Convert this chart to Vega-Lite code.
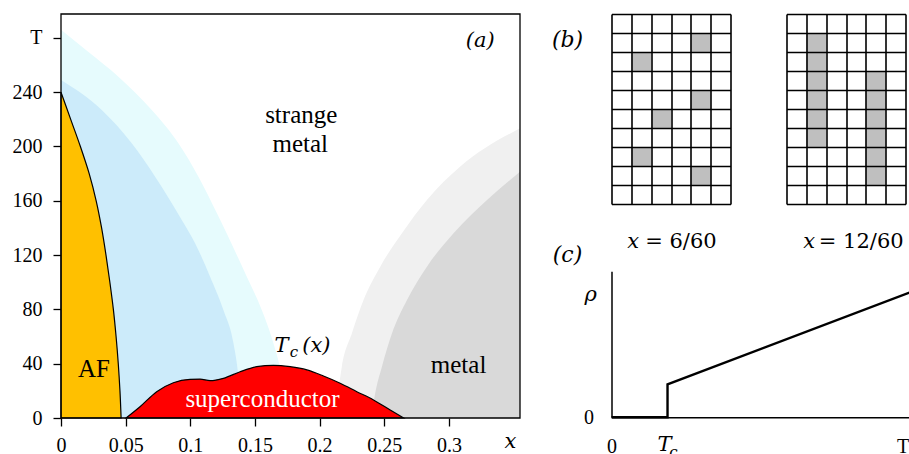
{
  "$schema": "https://vega.github.io/schema/vega-lite/v6.json",
  "padding": {"left": 12, "top": 13, "right": 0, "bottom": 0},
  "background": "white",
  "config": {"view": {"stroke": null}},
  "bounds": "flush",
  "spacing": 91.5,
  "datasets": {
    "outer": [{"x":0,"T":286},{"x":0.021,"T":269.8},{"x":0.0444,"T":251.4},{"x":0.0702,"T":226.9},{"x":0.0908,"T":202.4},{"x":0.1063,"T":177.8},{"x":0.121,"T":150},{"x":0.1437,"T":104.1},{"x":0.1553,"T":79.6},{"x":0.1643,"T":55},{"x":0.171,"T":30},{"x":0.176,"T":0}],
    "inner": [{"x":0,"T":249},{"x":0.0315,"T":226.9},{"x":0.0547,"T":202.4},{"x":0.0728,"T":177.8},{"x":0.0934,"T":145.9},{"x":0.1037,"T":128.7},{"x":0.1153,"T":104.1},{"x":0.1256,"T":79.6},{"x":0.1334,"T":55},{"x":0.1372,"T":30.4},{"x":0.1398,"T":0}],
    "lgray": [{"x":0.212,"T":0},{"x":0.2172,"T":37.8},{"x":0.225,"T":62.4},{"x":0.234,"T":86.9},{"x":0.2469,"T":111.5},{"x":0.2637,"T":136.1},{"x":0.283,"T":160.6},{"x":0.3088,"T":185.2},{"x":0.355,"T":213.4}],
    "dgray": [{"x":0.24,"T":0},{"x":0.243,"T":18.2},{"x":0.2482,"T":37.8},{"x":0.256,"T":62.4},{"x":0.2676,"T":86.9},{"x":0.283,"T":111.5},{"x":0.3036,"T":136.1},{"x":0.3295,"T":160.6},{"x":0.355,"T":181.4}],
    "af": [{"x":0,"T":240},{"x":0.0075,"T":220},{"x":0.015,"T":200},{"x":0.0218,"T":180},{"x":0.0272,"T":160},{"x":0.0314,"T":140},{"x":0.0348,"T":120},{"x":0.0378,"T":100},{"x":0.0405,"T":80},{"x":0.0426,"T":60},{"x":0.0443,"T":40},{"x":0.0456,"T":20},{"x":0.0465,"T":0}],
    "sc": [{"x":0.0503,"T":0},{"x":0.0611,"T":8.3},{"x":0.074,"T":19.4},{"x":0.0869,"T":26},{"x":0.0998,"T":28.5},{"x":0.1076,"T":28.7},{"x":0.1153,"T":27.5},{"x":0.1256,"T":29.2},{"x":0.1385,"T":34.1},{"x":0.1514,"T":37.8},{"x":0.1643,"T":38.8},{"x":0.1772,"T":37.8},{"x":0.1902,"T":35.4},{"x":0.203,"T":30.9},{"x":0.2159,"T":25.6},{"x":0.2288,"T":19.4},{"x":0.2417,"T":13.3},{"x":0.2546,"T":5.9},{"x":0.2649,"T":0}],
    "labBlack": [{"x":0.1858,"T":217.1,"s":"strange"},{"x":0.185,"T":196.2,"s":"metal"},{"x":0.0255,"T":30.4,"s":"AF"},{"x":0.3075,"T":32.9,"s":"metal"}],
    "labWhite": [{"x":0.1558,"T":8.3,"s":"superconductor"}],
    "labItal": [{"x":0.3243,"T":273.5,"s":"(a)"},{"x":0.1705,"T":48.6,"s":"T"},{"x":0.1975,"T":48.6,"s":"(x)"},{"x":0.3475,"T":-22.1,"s":"x"}],
    "labSub": [{"x":0.1802,"T":44.9,"s":"c"}],
    "g1": [{"c":4,"r":1},{"c":1,"r":2},{"c":4,"r":4},{"c":2,"r":5},{"c":1,"r":7},{"c":4,"r":8}],
    "g2": [{"c":1,"r":1},{"c":1,"r":2},{"c":1,"r":3},{"c":1,"r":4},{"c":1,"r":5},{"c":1,"r":6},{"c":4,"r":3},{"c":4,"r":4},{"c":4,"r":5},{"c":4,"r":6},{"c":4,"r":7},{"c":4,"r":8}],
    "rho": [{"t":0,"r":0},{"t":1.88,"r":0},{"t":1.88,"r":2.26},{"t":10,"r":8.54}],
    "labC": [{"t":-0.7,"r":7.97,"s":"ρ"},{"t":1.78,"r":-2.33,"s":"T"}],
    "labCsub": [{"t":2.08,"r":-2.74,"s":"c"}]
  },
  "hconcat": [
    {
      "width": 459,
      "height": 404,
      "layer": [
        {
          "data": {"name": "outer"},
          "mark": {"type": "area", "interpolate": "monotone", "color": "#E6FBFD"},
          "encoding": {
            "x": {"field": "x", "type": "quantitative", "scale": {"domain": [0, 0.355], "nice": false, "zero": false},
              "axis": {"values": [0, 0.05, 0.1, 0.15, 0.2, 0.25, 0.3], "labelExpr": "'' + datum.value", "title": null, "domain": false, "grid": false, "ticks": true, "tickSize": 8, "tickColor": "black", "tickWidth": 1.3, "labelPadding": 9, "labelFont": "Liberation Serif", "labelFontSize": 20, "labelColor": "black", "labelFlush": false, "labelOverlap": false}},
            "y": {"field": "T", "type": "quantitative", "scale": {"domain": [0, 297.6], "nice": false},
              "axis": {"values": [0, 40, 80, 120, 160, 200, 240, 280], "labelExpr": "datum.value == 280 ? 'T' : '' + datum.value", "title": null, "domain": false, "grid": false, "ticks": true, "tickSize": 8, "tickColor": "black", "tickWidth": 1.3, "labelPadding": 11, "labelFont": "Liberation Serif", "labelFontSize": 20, "labelColor": "black", "labelFlush": false, "labelOverlap": false}}
          }
        },
        {
          "data": {"name": "inner"},
          "mark": {"type": "area", "interpolate": "monotone", "color": "#CCEBFA"},
          "encoding": {"x": {"field": "x", "type": "quantitative"}, "y": {"field": "T", "type": "quantitative"}}
        },
        {
          "data": {"name": "lgray"},
          "mark": {"type": "area", "interpolate": "monotone", "color": "#F0F0F0"},
          "encoding": {"x": {"field": "x", "type": "quantitative"}, "y": {"field": "T", "type": "quantitative"}}
        },
        {
          "data": {"name": "dgray"},
          "mark": {"type": "area", "interpolate": "monotone", "color": "#D9D9D9"},
          "encoding": {"x": {"field": "x", "type": "quantitative"}, "y": {"field": "T", "type": "quantitative"}}
        },
        {
          "data": {"name": "af"},
          "mark": {"type": "area", "orient": "horizontal", "interpolate": "monotone", "fill": "#FFC000", "stroke": "black", "strokeWidth": 1.2},
          "encoding": {"x": {"field": "x", "type": "quantitative"}, "y": {"field": "T", "type": "quantitative"}}
        },
        {
          "data": {"name": "sc"},
          "mark": {"type": "area", "interpolate": "monotone", "fill": "#FF0000", "stroke": "black", "strokeWidth": 1.2},
          "encoding": {"x": {"field": "x", "type": "quantitative"}, "y": {"field": "T", "type": "quantitative"}}
        },
        {
          "data": {"name": "labBlack"},
          "mark": {"type": "text", "font": "Liberation Serif", "fontSize": 25, "color": "black", "align": "center", "baseline": "alphabetic"},
          "encoding": {"x": {"field": "x", "type": "quantitative"}, "y": {"field": "T", "type": "quantitative"}, "text": {"field": "s"}}
        },
        {
          "data": {"name": "labWhite"},
          "mark": {"type": "text", "font": "Liberation Serif", "fontSize": 25, "color": "white", "align": "center", "baseline": "alphabetic"},
          "encoding": {"x": {"field": "x", "type": "quantitative"}, "y": {"field": "T", "type": "quantitative"}, "text": {"field": "s"}}
        },
        {
          "data": {"name": "labItal"},
          "mark": {"type": "text", "font": "DejaVu Serif", "fontStyle": "italic", "fontSize": 21, "color": "black", "align": "center", "baseline": "alphabetic"},
          "encoding": {"x": {"field": "x", "type": "quantitative"}, "y": {"field": "T", "type": "quantitative"}, "text": {"field": "s"}}
        },
        {
          "data": {"name": "labSub"},
          "mark": {"type": "text", "font": "DejaVu Serif", "fontStyle": "italic", "fontSize": 15, "color": "black", "align": "center", "baseline": "alphabetic"},
          "encoding": {"x": {"field": "x", "type": "quantitative"}, "y": {"field": "T", "type": "quantitative"}, "text": {"field": "s"}}
        },
        {
          "data": {"values": [{}]},
          "mark": {"type": "rect", "filled": false, "color": "black", "strokeWidth": 1.3},
          "encoding": {"x": {"datum": 0, "type": "quantitative"}, "x2": {"datum": 0.355}, "y": {"datum": 0, "type": "quantitative"}, "y2": {"datum": 297.6}}
        }
      ]
    },
    {
      "spacing": 5.3,
      "vconcat": [
        {
          "bounds": "flush",
          "spacing": 56,
          "hconcat": [
            {
              "width": 119,
              "height": 190,
              "layer": [
                {
                  "data": {"name": "g1"},
                  "mark": {"type": "rect", "color": "#BFBFBF"},
                  "encoding": {
                    "x": {"field": "c", "type": "ordinal", "scale": {"domain": [0,1,2,3,4,5], "paddingInner": 0, "paddingOuter": 0},
                      "axis": {"grid": true, "tickBand": "extent", "labels": false, "ticks": false, "domain": false, "title": null, "gridColor": "black", "gridWidth": 1.6, "gridOpacity": 1, "zindex": 1}},
                    "y": {"field": "r", "type": "ordinal", "scale": {"domain": [0,1,2,3,4,5,6,7,8,9], "paddingInner": 0, "paddingOuter": 0},
                      "axis": {"grid": true, "tickBand": "extent", "labels": false, "ticks": false, "domain": false, "title": null, "gridColor": "black", "gridWidth": 1.6, "gridOpacity": 1, "zindex": 1}}
                  }
                },
                {
                  "data": {"values": [{"s": "(b)"}]},
                  "mark": {"type": "text", "font": "DejaVu Serif", "fontStyle": "italic", "fontSize": 22, "color": "black", "align": "center", "baseline": "alphabetic", "dx": -53.9, "dy": 4.2},
                  "encoding": {"x": {"datum": 0, "type": "ordinal"}, "y": {"datum": 1, "type": "ordinal"}, "text": {"field": "s"}}
                },
                {
                  "data": {"values": [{"s": "(c)"}]},
                  "mark": {"type": "text", "font": "DejaVu Serif", "fontStyle": "italic", "fontSize": 22, "color": "black", "align": "center", "baseline": "alphabetic", "dx": -53.9, "dy": 67.2},
                  "encoding": {"x": {"datum": 0, "type": "ordinal"}, "y": {"datum": 9, "type": "ordinal"}, "text": {"field": "s"}}
                },
                {
                  "data": {"values": [{"s": "x"}]},
                  "mark": {"type": "text", "font": "DejaVu Serif", "fontStyle": "italic", "fontSize": 21, "color": "black", "align": "center", "baseline": "alphabetic", "dx": -47.7, "dy": 53.5},
                  "encoding": {"x": {"datum": 3, "type": "ordinal"}, "y": {"datum": 9, "type": "ordinal"}, "text": {"field": "s"}}
                },
                {
                  "data": {"values": [{"s": "= 6/60"}]},
                  "mark": {"type": "text", "font": "DejaVu Serif", "fontSize": 21, "color": "black", "align": "center", "baseline": "alphabetic", "dx": 0, "dy": 53.5},
                  "encoding": {"x": {"datum": 3, "type": "ordinal"}, "y": {"datum": 9, "type": "ordinal"}, "text": {"field": "s"}}
                }
              ]
            },
            {
              "width": 119,
              "height": 190,
              "layer": [
                {
                  "data": {"name": "g2"},
                  "mark": {"type": "rect", "color": "#BFBFBF"},
                  "encoding": {
                    "x": {"field": "c", "type": "ordinal", "scale": {"domain": [0,1,2,3,4,5], "paddingInner": 0, "paddingOuter": 0},
                      "axis": {"grid": true, "tickBand": "extent", "labels": false, "ticks": false, "domain": false, "title": null, "gridColor": "black", "gridWidth": 1.6, "gridOpacity": 1, "zindex": 1}},
                    "y": {"field": "r", "type": "ordinal", "scale": {"domain": [0,1,2,3,4,5,6,7,8,9], "paddingInner": 0, "paddingOuter": 0},
                      "axis": {"grid": true, "tickBand": "extent", "labels": false, "ticks": false, "domain": false, "title": null, "gridColor": "black", "gridWidth": 1.6, "gridOpacity": 1, "zindex": 1}}
                  }
                },
                {
                  "data": {"values": [{"s": "x"}]},
                  "mark": {"type": "text", "font": "DejaVu Serif", "fontStyle": "italic", "fontSize": 21, "color": "black", "align": "center", "baseline": "alphabetic", "dx": -46.7, "dy": 53.5},
                  "encoding": {"x": {"datum": 3, "type": "ordinal"}, "y": {"datum": 9, "type": "ordinal"}, "text": {"field": "s"}}
                },
                {
                  "data": {"values": [{"s": "= 12/60"}]},
                  "mark": {"type": "text", "font": "DejaVu Serif", "fontSize": 21, "color": "black", "align": "center", "baseline": "alphabetic", "dx": 5.3, "dy": 53.5},
                  "encoding": {"x": {"datum": 3, "type": "ordinal"}, "y": {"datum": 9, "type": "ordinal"}, "text": {"field": "s"}}
                }
              ]
            }
          ]
        },
        {
          "width": 298,
          "height": 146,
          "layer": [
            {
              "data": {"name": "rho"},
              "mark": {"type": "line", "color": "black", "strokeWidth": 2.4, "strokeCap": "butt"},
              "encoding": {
                "x": {"field": "t", "type": "quantitative", "scale": {"domain": [0, 10], "nice": false, "zero": false},
                  "axis": {"values": [0, 9.77], "labelExpr": "datum.value == 0 ? '0' : 'T'", "title": null, "domain": true, "domainColor": "black", "domainWidth": 1.5, "ticks": false, "tickSize": 0, "grid": false, "labelPadding": 19, "labelFont": "Liberation Serif", "labelFontSize": 20, "labelColor": "black", "labelFlush": false, "labelOverlap": false}},
                "y": {"field": "r", "type": "quantitative", "scale": {"domain": [0, 10], "nice": false},
                  "axis": {"values": [0], "labelExpr": "'0'", "title": null, "domain": true, "domainColor": "black", "domainWidth": 1.5, "ticks": false, "tickSize": 0, "grid": false, "labelPadding": 18, "labelFont": "Liberation Serif", "labelFontSize": 20, "labelColor": "black", "labelFlush": false, "labelOverlap": false}},
                "order": {"value": null}
              }
            },
            {
              "data": {"name": "labC"},
              "mark": {"type": "text", "font": "DejaVu Serif", "fontStyle": "italic", "fontSize": 21, "color": "black", "align": "center", "baseline": "alphabetic"},
              "encoding": {"x": {"field": "t", "type": "quantitative"}, "y": {"field": "r", "type": "quantitative"}, "text": {"field": "s"}}
            },
            {
              "data": {"name": "labCsub"},
              "mark": {"type": "text", "font": "DejaVu Serif", "fontStyle": "italic", "fontSize": 15, "color": "black", "align": "center", "baseline": "alphabetic"},
              "encoding": {"x": {"field": "t", "type": "quantitative"}, "y": {"field": "r", "type": "quantitative"}, "text": {"field": "s"}}
            }
          ]
        }
      ]
    }
  ]
}
